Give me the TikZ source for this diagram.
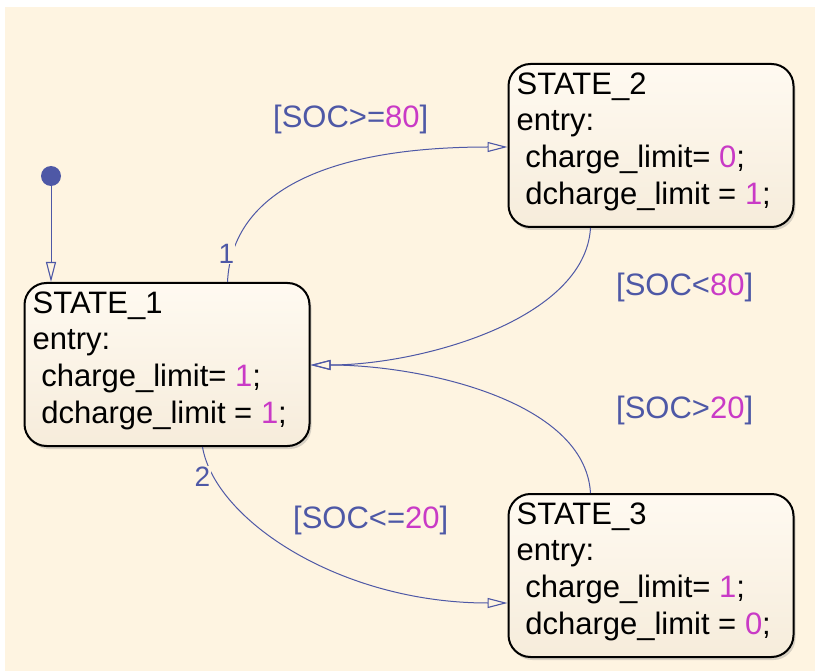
\documentclass[tikz,border=0pt]{standalone}
\usepackage{fontspec}
\setmainfont{Liberation Sans}
\usetikzlibrary{arrows.meta,shadows}
\definecolor{bg}{HTML}{FEF4E1}
\definecolor{tblue}{HTML}{4E58A6}
\definecolor{mag}{HTML}{C93AC6}
\definecolor{boxtop}{HTML}{FFFAF1}
\definecolor{boxbot}{HTML}{F6ECDB}
\newcommand{\nm}[1]{\textcolor{mag}{#1}}
\begin{document}
\begin{tikzpicture}[x=1pt,y=-1pt,
  statebox/.style={draw=black, line width=2pt, rounded corners=22pt,
    top color=boxtop, bottom color=boxbot, minimum width=285pt,
    minimum height=163pt, inner sep=0pt,
    drop shadow={shadow xshift=2pt,shadow yshift=-3pt,opacity=0.3}},
  stext/.style={anchor=north west, inner sep=0pt, align=left,
    font=\fontsize{31}{36.7}\selectfont, text=black},
  lbl/.style={anchor=base west, inner sep=0pt, text=tblue,
    font=\fontsize{31}{36}\selectfont},
  numlbl/.style={anchor=base west, inner sep=0.5pt, text=tblue, fill=bg,
    font=\fontsize{28}{32}\selectfont},
  trans/.style={draw=tblue, line width=1pt,
    -{Triangle[open, length=20pt, width=10pt, line width=1.1pt]}}
]
\useasboundingbox (0,0) rectangle (815,671);
\fill[bg] (5,7) rectangle (815,671);

% states
\node[statebox] (s1) at (167,364.5) {};
\node[statebox] (s2) at (651,145.5) {};
\node[statebox] (s3) at (651,575.5) {};

\node[stext] (s1t) at ([xshift=9pt,yshift=-1pt]s1.north west)
  {\rule{0pt}{30pt}STATE\_1\\entry:\\\ charge\_limit= \nm{1};\\\ dcharge\_limit = \nm{1};};
\node[stext] (s2t) at ([xshift=9pt,yshift=-1pt]s2.north west)
  {\rule{0pt}{30pt}STATE\_2\\entry:\\\ charge\_limit= \nm{0};\\\ dcharge\_limit = \nm{1};};
\node[stext] (s3t) at ([xshift=9pt,yshift=-1pt]s3.north west)
  {\rule{0pt}{30pt}STATE\_3\\entry:\\\ charge\_limit= \nm{1};\\\ dcharge\_limit = \nm{0};};

% default transition
\node[circle, fill=tblue, minimum size=20pt, inner sep=0pt] (init) at (51,176) {};
\draw[trans] (init) -- (init |- s1.north);

% connection points
\coordinate (t1s) at ([xshift=204pt]s1.north west);
\coordinate (t1e) at ([yshift=-84pt]s2.north west);
\coordinate (t2s) at ([xshift=179pt]s1.south west);
\coordinate (t2e) at ([yshift=-110pt]s3.north west);
\coordinate (t3s) at ([xshift=83pt]s2.south west);
\coordinate (t3e) at ([yshift=-83pt]s1.north east);
\coordinate (t4s) at ([xshift=83pt]s3.north west);

\draw[trans] (t1s) .. controls (232,190) and (330,147) .. (t1e);
\draw[trans] (t2s) .. controls (215,520) and (340,603) .. (t2e);
\draw[trans] (t3s) .. controls (585,320) and (420,365) .. (t3e);
\draw[trans] (t4s) .. controls (585,400) and (420,365) .. (t3e);

% labels
\node[numlbl] (n1) at (218,264) {1};
\node[numlbl] (n2) at (194,486) {2};
\node[lbl] (l1) at (273,128) {[SOC>=\nm{80}]};
\node[lbl] (l3) at (616,296) {[SOC<\nm{80}]};
\node[lbl] (l4) at (616,419) {[SOC>\nm{20}]};
\node[lbl] (l2) at (293,528) {[SOC<=\nm{20}]};
\end{tikzpicture}
\end{document}
